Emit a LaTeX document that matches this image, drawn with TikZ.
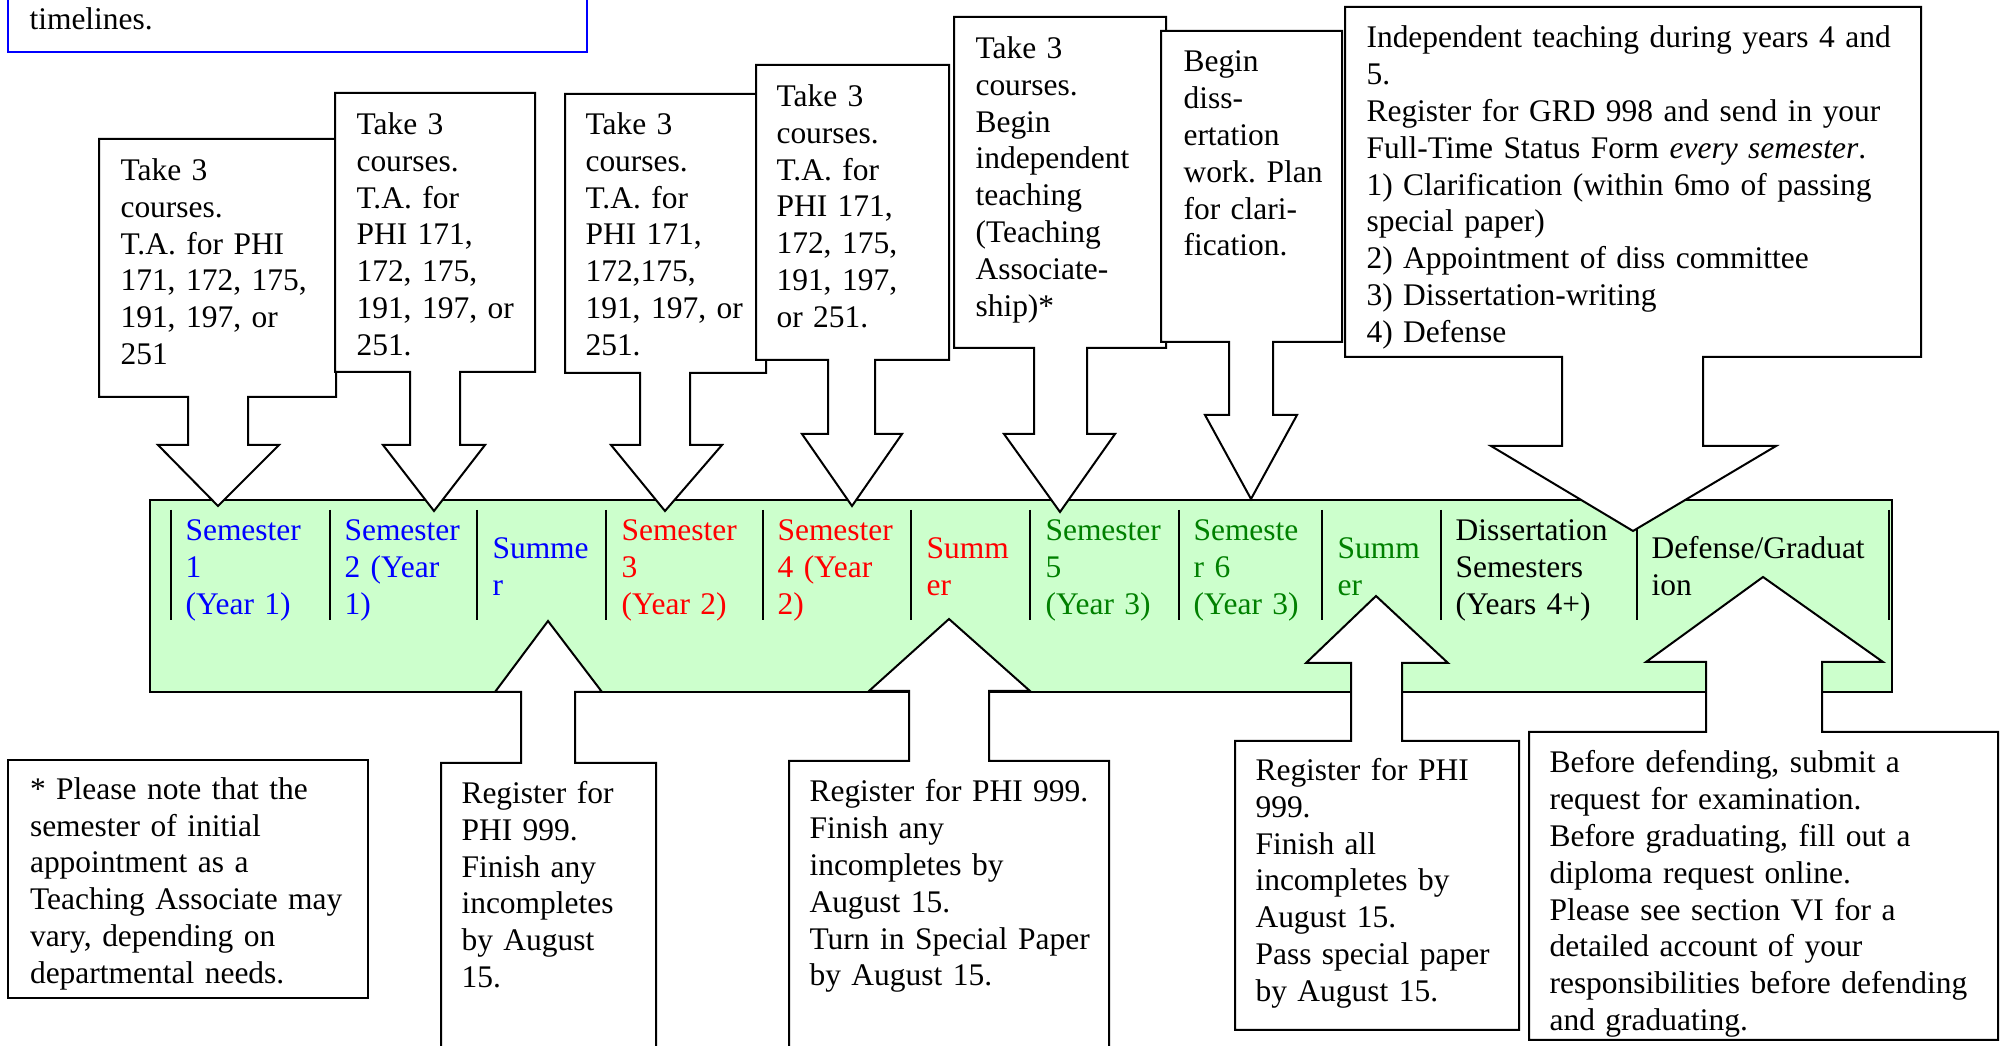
\documentclass[tikz,border=0pt]{standalone}
\usepackage{fontspec}
\setmainfont{Liberation Serif}
\definecolor{barfill}{HTML}{CCFFCC}
\definecolor{dgreen}{RGB}{0,128,0}
\begin{document}
\frenchspacing
\begin{tikzpicture}[x=0.375pt,y=-0.375pt,
  txt/.style={anchor=north west, inner sep=0pt, align=left, text width=220pt,
              font=\fontsize{11.8pt}{13.8pt}\selectfont\frenchspacing},
  callout/.style={draw=black, fill=white, line width=0.75pt, line join=miter},
  divider/.style={draw=black, line width=0.75pt}]
\clip (0,0) rectangle (2003,1046);
\fill[white] (0,0) rectangle (2003,1046);

% top blue box (cut)
\draw[blue, line width=0.75pt] (8,-20) rectangle (587,52);
\node[txt] (intro) at (29,3.5) {\strut timelines.};

% green timeline bar
\draw[fill=barfill, line width=0.75pt] (150,500) rectangle (1892,692);
\foreach \x in {171,330,477,606,763,911,1030,1179,1322,1441,1637,1889}
  \draw[divider] (\x,510) -- (\x,620);

\node[txt, text=blue] (c1) at (185,514.2) {\strut Semester\\1\\(Year 1)};
\node[txt, text=blue] (c2) at (344,514.2) {\strut Semester\\2 (Year\\1)};
\node[txt, text=blue] (c3) at (492,532.2) {\strut Summe\\r};
\node[txt, text=red] (c4) at (621,514.2) {\strut Semester\\3\\(Year 2)};
\node[txt, text=red] (c5) at (777,514.2) {\strut Semester\\4 (Year\\2)};
\node[txt, text=red] (c6) at (926,532.2) {\strut Summ\\er};
\node[txt, text=dgreen] (c7) at (1045,514.2) {\strut Semester\\5\\(Year 3)};
\node[txt, text=dgreen] (c8) at (1193,514.2) {\strut Semeste\\r 6\\(Year 3)};
\node[txt, text=dgreen] (c9) at (1337,532.2) {\strut Summ\\er};
\node[txt] (c10) at (1455,514.2) {\strut Dissertation\\Semesters\\(Years 4+)};
\node[txt] (c11) at (1651,532.2) {\strut Defense/Graduat\\ion};

% down callouts (top)
\draw[callout] (99,139) -- (336,139) -- (336,397) -- (248,397) -- (248,445) -- (279,445)
  -- (218,506) -- (158,445) -- (188,445) -- (188,397) -- (99,397) -- cycle;
\draw[callout] (335,93) -- (535,93) -- (535,372) -- (460,372) -- (460,445) -- (485,445)
  -- (434,511) -- (383,445) -- (410,445) -- (410,372) -- (335,372) -- cycle;
\draw[callout] (565,94) -- (766,94) -- (766,373) -- (690,373) -- (690,445) -- (722,445)
  -- (665,511) -- (611,445) -- (640,445) -- (640,373) -- (565,373) -- cycle;
\draw[callout] (756,65) -- (949,65) -- (949,360) -- (875,360) -- (875,434) -- (902,434)
  -- (852,506) -- (802,434) -- (828,434) -- (828,360) -- (756,360) -- cycle;
\draw[callout] (954,17) -- (1166,17) -- (1166,348) -- (1087,348) -- (1087,434) -- (1115,434)
  -- (1060,512) -- (1004,434) -- (1034,434) -- (1034,348) -- (954,348) -- cycle;
\draw[callout] (1161,31) -- (1342,31) -- (1342,342) -- (1273,342) -- (1273,415) -- (1297,415)
  -- (1251,499) -- (1205,415) -- (1229,415) -- (1229,342) -- (1161,342) -- cycle;
\draw[callout] (1345,7) -- (1921,7) -- (1921,357) -- (1703,357) -- (1703,446) -- (1776,446)
  -- (1633,531) -- (1491,446) -- (1562,446) -- (1562,357) -- (1345,357) -- cycle;

\node[txt] (t1) at (120,154.2) {\strut Take 3\\courses.\\T.A. for PHI\\171, 172, 175,\\191, 197, or\\251};
\node[txt] (t2) at (356,108.2) {\strut Take 3\\courses.\\T.A. for\\PHI 171,\\172, 175,\\191, 197, or\\251.};
\node[txt] (t3) at (585,108.2) {\strut Take 3\\courses.\\T.A. for\\PHI 171,\\172,175,\\191, 197, or\\251.};
\node[txt] (t4) at (776,80.2) {\strut Take 3\\courses.\\T.A. for\\PHI 171,\\172, 175,\\191, 197,\\or 251.};
\node[txt] (t5) at (975,32.2) {\strut Take 3\\courses.\\Begin\\independent\\teaching\\(Teaching\\Associate-\\ship)*};
\node[txt] (t6) at (1183,45.7) {\strut Begin\\diss-\\ertation\\work. Plan\\for clari-\\fication.};
\node[txt] (t7) at (1366,21.7) {\strut Independent teaching during years 4 and\\5.\\Register for GRD 998 and send in your\\Full-Time Status Form \textit{every semester}.\\1) Clarification (within 6mo of passing\\special paper)\\2) Appointment of diss committee\\3) Dissertation-writing\\4) Defense};

% up callouts (bottom)
\draw[callout] (441,763) -- (521,763) -- (521,692) -- (495,692) -- (548,621) -- (602,692)
  -- (575,692) -- (575,763) -- (656,763) -- (656,1070) -- (441,1070) -- cycle;
\draw[callout] (789,761) -- (909,761) -- (909,691) -- (869,691) -- (949,619) -- (1030,691)
  -- (989,691) -- (989,761) -- (1109,761) -- (1109,1070) -- (789,1070) -- cycle;
\draw[callout] (1235,741) -- (1351,741) -- (1351,663) -- (1306,663) -- (1376,596) -- (1448,663)
  -- (1402,663) -- (1402,741) -- (1519,741) -- (1519,1030) -- (1235,1030) -- cycle;
\draw[callout] (1529,732) -- (1706,732) -- (1706,662) -- (1646,662) -- (1763,577) -- (1883,662)
  -- (1822,662) -- (1822,732) -- (1998,732) -- (1998,1040) -- (1529,1040) -- cycle;

% footnote box
\draw[line width=0.75pt] (8,760) rectangle (368,998);
\node[txt] (fn) at (29.5,773) {\strut * Please note that the\\semester of initial\\appointment as a\\Teaching Associate may\\vary, depending on\\departmental needs.};

\node[txt] (s1) at (461,777.2) {\strut Register for\\PHI 999.\\Finish any\\incompletes\\by August\\15.};
\node[txt] (s2) at (809,775.7) {\strut Register for PHI 999.\\Finish any\\incompletes by\\August 15.\\Turn in Special Paper\\by August 15.};
\node[txt] (s3) at (1255,754.2) {\strut Register for PHI\\999.\\Finish all\\incompletes by\\August 15.\\Pass special paper\\by August 15.};
\node[txt] (dg) at (1549,746.7) {\strut Before defending, submit a\\request for examination.\\Before graduating, fill out a\\diploma request online.\\Please see section VI for a\\detailed account of your\\responsibilities before defending\\and graduating.};
\end{tikzpicture}
\end{document}
